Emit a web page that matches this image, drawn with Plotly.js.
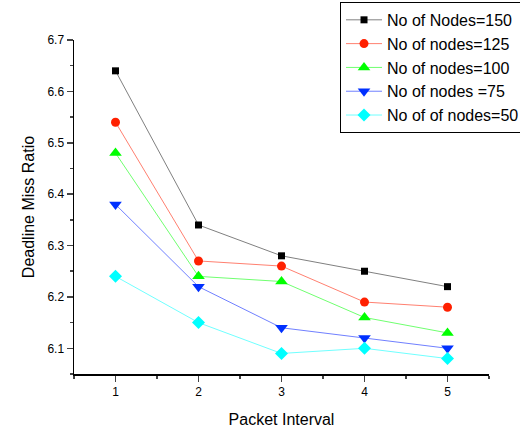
<!DOCTYPE html>
<html><head><meta charset="utf-8">
<script src="https://cdn.plot.ly/plotly-3.0.1.min.js"></script>
<style>body{margin:0;padding:0;background:#fff}#c{width:520px;height:428px}</style>
</head><body><div id="c"></div>
<script>
const packetInterval = [1, 2, 3, 4, 5];
const seriesNames = ["No of Nodes=150", "No of nodes=125", "No of nodes=100", "No of nodes =75", "No of of nodes=50"];
const nodes150 = [6.64, 6.34, 6.28, 6.25, 6.22];
const nodes125 = [6.54, 6.27, 6.26, 6.19, 6.18];
const nodes100 = [6.48, 6.24, 6.23, 6.16, 6.13];
const nodes75  = [6.38, 6.22, 6.14, 6.12, 6.10];
const nodes50  = [6.24, 6.15, 6.09, 6.10, 6.08];
const yTickVals = [6.1, 6.2, 6.3, 6.4, 6.5, 6.6, 6.7];
const xTickVals = [1, 2, 3, 4, 5];

const seriesData = [nodes150, nodes125, nodes100, nodes75, nodes50];
const markerColors = ["#000000", "#ff2000", "#00ff00", "#0030ff", "#00ffff"];
const lineColors = ["#808080", "#ff8070", "#70ff70", "#7080ff", "#70ffff"];
const symbols = ["square", "circle", "triangle-up", "triangle-down", "diamond"];
const sizes = [7, 9, 11, 11, 10];

const traces = seriesData.map((ys, i) => ({
  x: packetInterval, y: ys, name: seriesNames[i], type: "scatter", mode: "lines+markers",
  line: {color: lineColors[i], width: 1},
  marker: {color: markerColors[i], symbol: symbols[i], size: sizes[i]}
}));

const layout = {
  width: 520, height: 428,
  margin: {l: 74, r: 31, t: 40, b: 54, pad: 0, autoexpand: false},
  paper_bgcolor: "#fff", plot_bgcolor: "#fff",
  font: {family: "Arial, 'Liberation Sans', sans-serif", color: "#000"},
  showlegend: true,
  legend: {
    x: 0.641, y: 1.114, xanchor: "left", yanchor: "top",
    bordercolor: "#000", borderwidth: 1, bgcolor: "#fff",
    font: {size: 16, family: "Arial, 'Liberation Sans', sans-serif"},
    tracegroupgap: 0, itemwidth: 36
  },
  xaxis: {
    range: [0.5, 5.5], tickvals: xTickVals, ticks: "outside", ticklen: 6, tickwidth: 1.5,
    showline: true, linewidth: 1.5, linecolor: "#000", showgrid: false, zeroline: false,
    tickfont: {size: 12}, minor: {dtick: 0.5, ticks: "outside", ticklen: 3, tickwidth: 1.5, tick0: 0.5, showgrid: false},
    title: {text: "Packet Interval", font: {size: 16}, standoff: 17}
  },
  yaxis: {
    range: [6.05, 6.7], tickvals: yTickVals, ticktext: yTickVals.map(v => v.toFixed(1)),
    ticks: "outside", ticklen: 6, tickwidth: 1.5,
    showline: true, linewidth: 1.5, linecolor: "#000", showgrid: false, zeroline: false,
    tickfont: {size: 12}, minor: {dtick: 0.05, tick0: 6.05, ticks: "outside", ticklen: 3, tickwidth: 1.5, showgrid: false},
    title: {text: "Deadline Miss Ratio", font: {size: 16}, standoff: 9}
  }
};
Plotly.newPlot("c", traces, layout, {displayModeBar: false, staticPlot: true});
</script></body></html>
